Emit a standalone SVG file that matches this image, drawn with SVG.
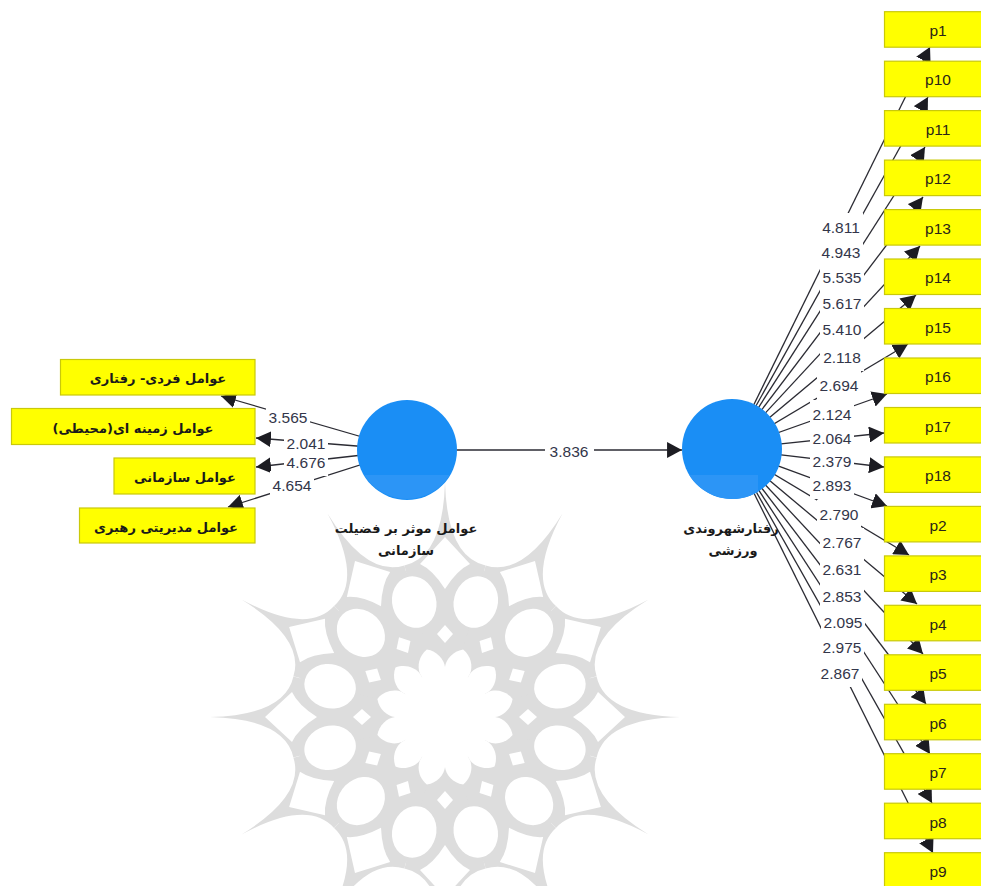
<svg xmlns="http://www.w3.org/2000/svg" width="981" height="886" viewBox="0 0 981 886">
<style>
.box{fill:#ffff00;stroke:#c9c90a;stroke-width:1.2}
.lv{font-family:"Liberation Sans",Arial,sans-serif;font-size:15.5px;fill:#2a2418;text-anchor:middle;dominant-baseline:central}
.num{font-family:"Liberation Sans",Arial,sans-serif;font-size:15.5px;fill:#33364a;text-anchor:middle;dominant-baseline:central}
.fa{font-family:"DejaVu Sans",sans-serif;font-size:13px;font-weight:bold;fill:#1a1a1a;text-anchor:middle;dominant-baseline:central;direction:rtl}
.bg{fill:#fff}
.ln{stroke:#2b2b33;stroke-width:1.3;fill:none;marker-end:url(#ah)}
.circle{fill:#1a8ef5}
.lower{fill:#2c95f6}
.wg{fill:#dddddd}
.wh{fill:#ffffff}
</style>
<defs>
<marker id="ah" markerUnits="userSpaceOnUse" markerWidth="16" markerHeight="16" refX="14" refY="7.5" orient="auto" viewBox="0 0 15 15"><path d="M0 0L14 7.5L0 15Z" fill="#1c1c22"/></marker>
<path id="wedge" class="wg" d="M0 0L151.600 -40.600Q160 -2 235 0Q160 2 151.600 40.600Z"/>
<g id="holes" class="wh">
<ellipse cx="114.900" cy="30.800" rx="26" ry="22" transform="rotate(15 114.900 30.800)"/>
<path d="M128 0Q147 -12 153 -25L180 0L153 25Q147 12 128 0Z"/>
<path d="M74 0L83 -8L92 0L83 8Z"/>
</g>
<path id="lobe" class="wh" d="M0 0L50 0C58 1 66 8 67.600 18.100C61.200 26.100 50.700 28.100 43.300 25Z"/>
</defs>
<rect width="981" height="886" fill="#ffffff"/>
<g id="watermark" transform="translate(445 717)">
<circle r="150" class="wg"/>
<use href="#wedge"/><use href="#wedge" transform="rotate(30)"/><use href="#wedge" transform="rotate(60)"/><use href="#wedge" transform="rotate(90)"/><use href="#wedge" transform="rotate(120)"/><use href="#wedge" transform="rotate(150)"/><use href="#wedge" transform="rotate(180)"/><use href="#wedge" transform="rotate(210)"/><use href="#wedge" transform="rotate(240)"/><use href="#wedge" transform="rotate(270)"/><use href="#wedge" transform="rotate(300)"/><use href="#wedge" transform="rotate(330)"/>
<use href="#holes"/><use href="#holes" transform="rotate(30)"/><use href="#holes" transform="rotate(60)"/><use href="#holes" transform="rotate(90)"/><use href="#holes" transform="rotate(120)"/><use href="#holes" transform="rotate(150)"/><use href="#holes" transform="rotate(180)"/><use href="#holes" transform="rotate(210)"/><use href="#holes" transform="rotate(240)"/><use href="#holes" transform="rotate(270)"/><use href="#holes" transform="rotate(300)"/><use href="#holes" transform="rotate(330)"/>
<circle r="46" class="wh"/>
<use href="#lobe"/><use href="#lobe" transform="rotate(30)"/><use href="#lobe" transform="rotate(60)"/><use href="#lobe" transform="rotate(90)"/><use href="#lobe" transform="rotate(120)"/><use href="#lobe" transform="rotate(150)"/><use href="#lobe" transform="rotate(180)"/><use href="#lobe" transform="rotate(210)"/><use href="#lobe" transform="rotate(240)"/><use href="#lobe" transform="rotate(270)"/><use href="#lobe" transform="rotate(300)"/><use href="#lobe" transform="rotate(330)"/>
</g>
<g id="connectors">
<line class="ln" x1="407" y1="450" x2="221" y2="396"/>
<line class="ln" x1="407" y1="450" x2="256" y2="438"/>
<line class="ln" x1="407" y1="450" x2="256" y2="467"/>
<line class="ln" x1="407" y1="450" x2="228" y2="507"/>
<line class="ln" x1="407" y1="450" x2="682" y2="450"/>
<line class="ln" x1="732" y1="449" x2="930" y2="47"/>
<line class="ln" x1="732" y1="449" x2="928" y2="97"/>
<line class="ln" x1="732" y1="449" x2="925" y2="147"/>
<line class="ln" x1="732" y1="449" x2="923" y2="197"/>
<line class="ln" x1="732" y1="449" x2="920" y2="246"/>
<line class="ln" x1="732" y1="449" x2="916" y2="295"/>
<line class="ln" x1="732" y1="449" x2="908" y2="344"/>
<line class="ln" x1="732" y1="449" x2="887" y2="394"/>
<line class="ln" x1="732" y1="449" x2="884" y2="433"/>
<line class="ln" x1="732" y1="449" x2="884" y2="467"/>
<line class="ln" x1="732" y1="449" x2="887" y2="506"/>
<line class="ln" x1="732" y1="449" x2="909" y2="555"/>
<line class="ln" x1="732" y1="449" x2="917" y2="604"/>
<line class="ln" x1="732" y1="449" x2="923" y2="654"/>
<line class="ln" x1="732" y1="449" x2="926" y2="704"/>
<line class="ln" x1="732" y1="449" x2="930" y2="754"/>
<line class="ln" x1="732" y1="449" x2="932" y2="803"/>
<line class="ln" x1="732" y1="449" x2="933" y2="853"/>
</g>
<g id="labels">
<rect class="bg" x="266" y="403" width="44" height="28"/>
<rect class="bg" x="284" y="429" width="44" height="28"/>
<rect class="bg" x="284" y="448" width="44" height="28"/>
<rect class="bg" x="270" y="471" width="44" height="28"/>
<rect class="bg" x="545" y="437" width="49" height="28"/>
<rect class="bg" x="819" y="213" width="44" height="28"/>
<rect class="bg" x="819" y="238" width="44" height="28"/>
<rect class="bg" x="820" y="263" width="44" height="28"/>
<rect class="bg" x="820" y="289" width="44" height="28"/>
<rect class="bg" x="820" y="315" width="44" height="28"/>
<rect class="bg" x="820" y="343" width="44" height="28"/>
<rect class="bg" x="817" y="371" width="44" height="28"/>
<rect class="bg" x="810" y="400" width="44" height="28"/>
<rect class="bg" x="810" y="424" width="44" height="28"/>
<rect class="bg" x="810" y="447" width="44" height="28"/>
<rect class="bg" x="810" y="471" width="44" height="28"/>
<rect class="bg" x="817" y="500" width="44" height="28"/>
<rect class="bg" x="820" y="528" width="44" height="28"/>
<rect class="bg" x="820" y="555" width="44" height="28"/>
<rect class="bg" x="820" y="582" width="44" height="28"/>
<rect class="bg" x="821" y="608" width="44" height="28"/>
<rect class="bg" x="820" y="633" width="44" height="28"/>
<rect class="bg" x="818" y="659" width="44" height="28"/>
<text class="num" x="288" y="417">3.565</text>
<text class="num" x="306" y="443">2.041</text>
<text class="num" x="306" y="462">4.676</text>
<text class="num" x="292" y="485">4.654</text>
<text class="num" x="569" y="451">3.836</text>
<text class="num" x="841" y="227">4.811</text>
<text class="num" x="841" y="252">4.943</text>
<text class="num" x="842" y="277">5.535</text>
<text class="num" x="842" y="303">5.617</text>
<text class="num" x="842" y="329">5.410</text>
<text class="num" x="842" y="357">2.118</text>
<text class="num" x="839" y="385">2.694</text>
<text class="num" x="832" y="414">2.124</text>
<text class="num" x="832" y="438">2.064</text>
<text class="num" x="832" y="461">2.379</text>
<text class="num" x="832" y="485">2.893</text>
<text class="num" x="839" y="514">2.790</text>
<text class="num" x="842" y="542">2.767</text>
<text class="num" x="842" y="569">2.631</text>
<text class="num" x="842" y="596">2.853</text>
<text class="num" x="843" y="622">2.095</text>
<text class="num" x="842" y="647">2.975</text>
<text class="num" x="840" y="673">2.867</text>
</g>
<g id="node-left"><circle class="circle" cx="407" cy="450" r="50"/><path class="lower" d="M364.300 475A50 50 0 0 0 449.700 475Z"/><text class="fa" x="406" y="528">عوامل موثر بر فضیلت</text><text class="fa" x="406" y="550">سازمانی</text></g>
<g id="node-right"><circle class="circle" cx="732" cy="449" r="50"/><path class="lower" d="M689.300 475L758 475L758 491.700A50 50 0 0 1 689.300 475Z"/><text class="fa" x="731" y="528">رفتارشهروندی</text><text class="fa" x="733" y="550">ورزشی</text></g>
<g id="f1"><rect class="box" x="60.500" y="359.500" width="194.500" height="35.500"/><text class="fa" x="158" y="378">عوامل فردی- رفتاری</text></g>
<g id="f2"><rect class="box" x="11.500" y="408.500" width="243.500" height="36"/><text class="fa" x="133" y="428">عوامل زمینه ای(محیطی)</text></g>
<g id="f3"><rect class="box" x="114" y="458" width="141" height="36"/><text class="fa" x="185" y="477">عوامل سازمانی</text></g>
<g id="f4"><rect class="box" x="79.500" y="508" width="175.500" height="35"/><text class="fa" x="166" y="527">عوامل مدیریتی رهبری</text></g>
<g id="p1"><rect class="box" x="884.500" y="11.700" width="100" height="35.500"/><text class="lv" x="938" y="30">p1</text></g>
<g id="p10"><rect class="box" x="884.500" y="61.200" width="100" height="35.500"/><text class="lv" x="938" y="79">p10</text></g>
<g id="p11"><rect class="box" x="884.500" y="110.600" width="100" height="35.500"/><text class="lv" x="938" y="129">p11</text></g>
<g id="p12"><rect class="box" x="884.500" y="160.100" width="100" height="35.500"/><text class="lv" x="938" y="178">p12</text></g>
<g id="p13"><rect class="box" x="884.500" y="209.600" width="100" height="35.500"/><text class="lv" x="938" y="228">p13</text></g>
<g id="p14"><rect class="box" x="884.500" y="259" width="100" height="35.500"/><text class="lv" x="938" y="277">p14</text></g>
<g id="p15"><rect class="box" x="884.500" y="308.500" width="100" height="35.500"/><text class="lv" x="938" y="327">p15</text></g>
<g id="p16"><rect class="box" x="884.500" y="358" width="100" height="35.500"/><text class="lv" x="938" y="376">p16</text></g>
<g id="p17"><rect class="box" x="884.500" y="407.500" width="100" height="35.500"/><text class="lv" x="938" y="426">p17</text></g>
<g id="p18"><rect class="box" x="884.500" y="456.900" width="100" height="35.500"/><text class="lv" x="938" y="475">p18</text></g>
<g id="p2"><rect class="box" x="884.500" y="506.400" width="100" height="35.500"/><text class="lv" x="938" y="525">p2</text></g>
<g id="p3"><rect class="box" x="884.500" y="555.900" width="100" height="35.500"/><text class="lv" x="938" y="574">p3</text></g>
<g id="p4"><rect class="box" x="884.500" y="605.300" width="100" height="35.500"/><text class="lv" x="938" y="624">p4</text></g>
<g id="p5"><rect class="box" x="884.500" y="654.800" width="100" height="35.500"/><text class="lv" x="938" y="673">p5</text></g>
<g id="p6"><rect class="box" x="884.500" y="704.300" width="100" height="35.500"/><text class="lv" x="938" y="723">p6</text></g>
<g id="p7"><rect class="box" x="884.500" y="753.700" width="100" height="35.500"/><text class="lv" x="938" y="772">p7</text></g>
<g id="p8"><rect class="box" x="884.500" y="803.200" width="100" height="35.500"/><text class="lv" x="938" y="822">p8</text></g>
<g id="p9"><rect class="box" x="884.500" y="852.700" width="100" height="35.500"/><text class="lv" x="938" y="871">p9</text></g>
</svg>
